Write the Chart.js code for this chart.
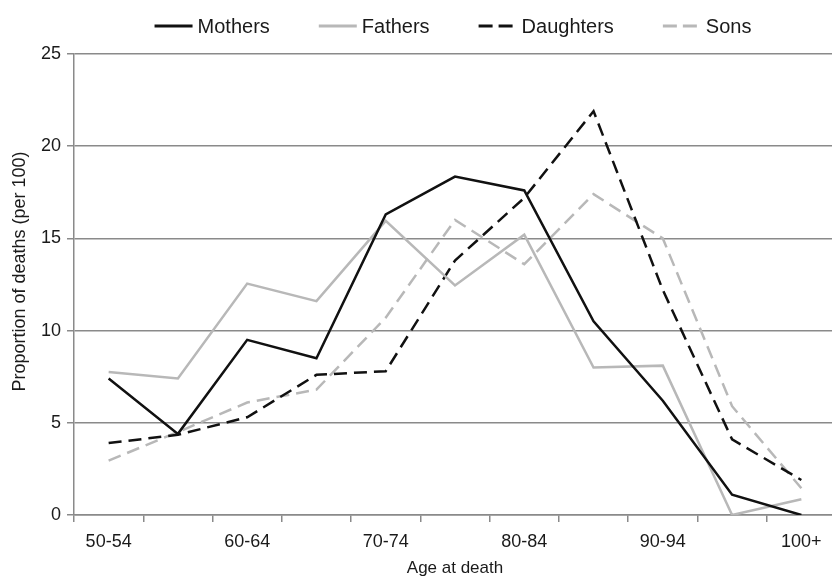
<!DOCTYPE html>
<html>
<head>
<meta charset="utf-8">
<script src="https://cdn.jsdelivr.net/npm/chart.js@4/dist/chart.umd.min.js"></script>
<style>
  html, body { margin: 0; padding: 0; background: #fff; overflow: hidden; }
  #wrap { width: 840px; height: 580px; }
</style>
</head>
<body>
<div id="wrap"><canvas id="chart" width="840" height="580"></canvas></div>
<script>
// Age groups at death
const ageGroups = ['50-54', '55-59', '60-64', '65-69', '70-74', '75-79', '80-84', '85-89', '90-94', '95-99', '100+'];
// Labels shown under the axis (every other group)
const shownTicks = ['50-54', '60-64', '70-74', '80-84', '90-94', '100+'];
const yTicks = [0, 5, 10, 15, 20, 25];

// Proportion of deaths (per 100) in each age group
const mothers   = [7.4, 4.4, 9.5, 8.5, 16.3, 18.35, 17.6, 10.5, 6.2, 1.1, 0.0];
const fathers   = [7.75, 7.4, 12.55, 11.6, 15.95, 12.45, 15.2, 8.0, 8.1, 0.0, 0.85];
const daughters = [3.9, 4.35, 5.3, 7.6, 7.8, 13.8, 17.2, 21.9, 12.2, 4.1, 1.9];
const sons      = [2.95, 4.5, 6.1, 6.8, 10.7, 16.0, 13.6, 17.4, 15.0, 5.9, 1.45];

const yTitle = 'Proportion of deaths (per 100)';

const DARK = '#111111';
const LIGHT = '#b8b8b8';
const GRID = '#8a8a8a';
const TEXT = '#1a1a1a';
const FONT = '"Liberation Sans", Arial, Helvetica, sans-serif';
const DASH = [13, 7];

function series(label, data, color, dash) {
  return {
    label, data,
    borderColor: color,
    backgroundColor: color,
    borderWidth: 2.5,
    borderDash: dash,
    borderJoinStyle: 'miter',
    borderCapStyle: 'butt',
    pointRadius: 0,
    pointHoverRadius: 0,
    tension: 0,
    fill: false
  };
}

// Legend row across the top: short line sample followed by the series name
const topLegend = {
  id: 'topLegend',
  afterDraw(chart) {
    const ctx = chart.ctx;
    const sets = chart.data.datasets;
    const lineLen = 38, gap = 5, itemGap = 49, y = 26;
    ctx.save();
    ctx.font = '20px ' + FONT;
    const widths = sets.map(d => ctx.measureText(d.label).width);
    const total = widths.reduce((a, w) => a + lineLen + gap + w, 0) + itemGap * (sets.length - 1);
    const area = chart.chartArea;
    let x = (area.left + area.right) / 2 - total / 2 - 2;
    sets.forEach((d, i) => {
      ctx.beginPath();
      ctx.setLineDash(d.borderDash && d.borderDash.length ? [14, 6] : []);
      ctx.lineWidth = 3;
      ctx.strokeStyle = d.borderColor;
      ctx.moveTo(x, y);
      ctx.lineTo(x + lineLen, y);
      ctx.stroke();
      ctx.setLineDash([]);
      ctx.fillStyle = TEXT;
      ctx.textAlign = 'left';
      ctx.textBaseline = 'middle';
      ctx.fillText(d.label, x + lineLen + gap, y + 1);
      x += lineLen + gap + widths[i] + itemGap;
    });
    ctx.restore();
  }
};

// Rotated title beside the value axis, sitting slightly above the axis middle
const sideTitle = {
  id: 'sideTitle',
  afterDraw(chart) {
    const ctx = chart.ctx;
    const area = chart.chartArea;
    ctx.save();
    ctx.translate(20, (area.top + area.bottom) / 2 - 13);
    ctx.rotate(-Math.PI / 2);
    ctx.font = '18px ' + FONT;
    ctx.fillStyle = TEXT;
    ctx.textAlign = 'center';
    ctx.textBaseline = 'middle';
    ctx.fillText(yTitle, 0, 0);
    ctx.restore();
  }
};

new Chart(document.getElementById('chart'), {
  type: 'line',
  data: {
    labels: ageGroups,
    datasets: [
      series('Mothers', mothers, DARK, []),
      series('Fathers', fathers, LIGHT, []),
      series('Daughters', daughters, DARK, DASH),
      series('Sons', sons, LIGHT, DASH)
    ]
  },
  plugins: [topLegend, sideTitle],
  options: {
    responsive: false,
    animation: false,
    devicePixelRatio: 1,
    layout: { padding: { top: 54, right: 4, bottom: 0, left: 0 } },
    plugins: {
      legend: { display: false },
      tooltip: { enabled: false }
    },
    scales: {
      x: {
        offset: true,
        grid: {
          offset: true,
          drawOnChartArea: false,
          drawTicks: true,
          tickLength: 7,
          color: GRID,
          lineWidth: 1.5
        },
        border: { display: true, color: GRID, width: 1.5 },
        ticks: {
          autoSkip: false,
          maxRotation: 0,
          padding: 9,
          color: TEXT,
          font: { family: FONT, size: 18 },
          callback(value) {
            const lab = this.getLabelForValue(value);
            return shownTicks.includes(lab) ? lab : '';
          }
        },
        title: {
          display: true,
          text: 'Age at death',
          color: TEXT,
          font: { family: FONT, size: 17 },
          padding: { top: 0, bottom: 1 }
        },
        afterFit(scale) { scale.height = 65; }
      },
      y: {
        min: 0,
        max: 25,
        afterBuildTicks(scale) { scale.ticks = yTicks.map(v => ({ value: v })); },
        grid: {
          drawOnChartArea: true,
          drawTicks: true,
          tickLength: 7,
          color: GRID,
          lineWidth: 1.5
        },
        border: { display: true, color: GRID, width: 1.5 },
        ticks: {
          padding: 6,
          color: TEXT,
          font: { family: FONT, size: 18 }
        },
        title: { display: false },
        afterFit(scale) { scale.width = 74; }
      }
    }
  }
});
</script>
</body>
</html>
